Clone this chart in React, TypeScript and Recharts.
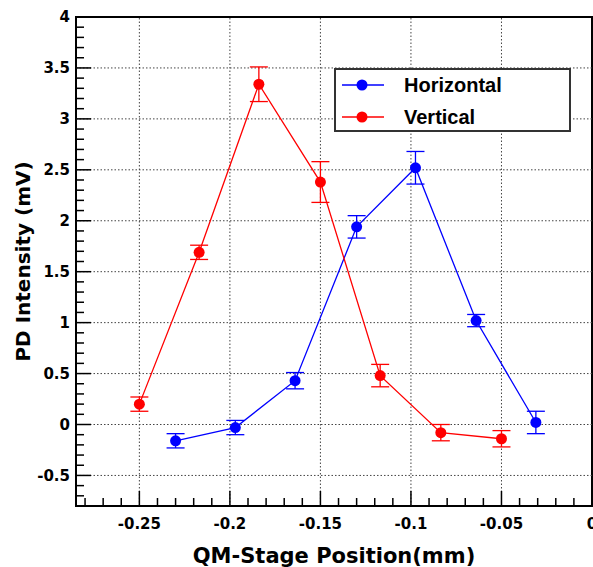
import React from 'react';
import { LineChart, Line, XAxis, YAxis, ErrorBar, ReferenceLine, ReferenceArea, Legend } from 'recharts';

// QM-stage scan, PD intensity vs position
const horizontalX = [-0.23, -0.197, -0.164, -0.13, -0.0975, -0.064, -0.031];
const horizontalY = [-0.16, -0.03, 0.43, 1.94, 2.52, 1.02, 0.02];
const horizontalErr = [0.07, 0.07, 0.08, 0.11, 0.16, 0.06, 0.11];

const verticalX = [-0.25, -0.217, -0.184, -0.15, -0.117, -0.0835, -0.05];
const verticalY = [0.2, 1.69, 3.34, 2.38, 0.48, -0.08, -0.14];
const verticalErr = [0.07, 0.07, 0.17, 0.2, 0.11, 0.08, 0.08];

const xMajor = [-0.25, -0.2, -0.15, -0.1, -0.05, 0];
const yMajor = [-0.5, 0, 0.5, 1, 1.5, 2, 2.5, 3, 3.5, 4];

const xDomain = [-0.285, 0];
const yDomain = [-0.8, 4];

const BLUE = '#0000ff';
const RED = '#ff0000';
const TICK_FONT = '"DejaVu Sans", sans-serif';

const horizontalData = horizontalX.map((x, i) => ({ x, y: horizontalY[i], err: horizontalErr[i] }));
const verticalData = verticalX.map((x, i) => ({ x, y: verticalY[i], err: verticalErr[i] }));

// minor ticks: 0.01 on x, 0.1 on y
const xTicks: number[] = [];
for (let i = -28; i <= 0; i++) xTicks.push(i / 100);
const yTicks: number[] = [];
for (let i = -7; i <= 40; i++) yTicks.push(i / 10);

const isMajor = (v: number, step: number) => Math.abs(v / step - Math.round(v / step)) < 1e-6;
const fmt = (v: number) => String(Number(v.toFixed(3)));

const XTick = (props: any) => {
  const { x, y, payload } = props;
  const major = isMajor(payload.value, 0.05);
  return (
    <g>
      <line x1={x} y1={y} x2={x} y2={y - (major ? 15 : 8)} stroke="#000" strokeWidth={1.5} />
      {major && (
        <text x={x} y={y + 23} textAnchor="middle" fontFamily={TICK_FONT} fontWeight="bold" fontSize={15} fill="#000">
          {fmt(payload.value)}
        </text>
      )}
    </g>
  );
};

const YTick = (props: any) => {
  const { x, y, payload } = props;
  const major = isMajor(payload.value, 0.5);
  return (
    <g>
      <line x1={x} y1={y} x2={x + (major ? 15 : 8)} y2={y} stroke="#000" strokeWidth={1.5} />
      {major && (
        <text x={x - 6} y={y} dy="0.36em" textAnchor="end" fontFamily={TICK_FONT} fontWeight="bold" fontSize={15} fill="#000">
          {fmt(payload.value)}
        </text>
      )}
    </g>
  );
};

const legendItems = [
  { name: 'Horizontal', color: BLUE },
  { name: 'Vertical', color: RED },
];

const LegendBox = () => (
  <svg width={237} height={64} style={{ display: 'block' }}>
    <rect x={1} y={1} width={235} height={62} fill="#fff" stroke="#333" strokeWidth={2} />
    {legendItems.map((item, i) => {
      const cy = 17 + i * 32;
      return (
        <g key={item.name}>
          <line x1={8} y1={cy} x2={50} y2={cy} stroke={item.color} strokeWidth={1.5} />
          <circle cx={28} cy={cy} r={5.5} fill={item.color} />
          <text x={70} y={cy} dy="0.36em" fontFamily='"Liberation Sans", Arial, sans-serif' fontWeight="bold" fontSize={20} fill="#000">
            {item.name}
          </text>
        </g>
      );
    })}
  </svg>
);

export default function App() {
  return (
    <div style={{ position: 'absolute', left: 0, top: 0, background: '#fff' }}>
      <LineChart width={593} height={567} margin={{ top: 17, right: 1, left: 0, bottom: 0 }}>
        <XAxis
          type="number"
          dataKey="x"
          domain={xDomain}
          ticks={xTicks}
          interval={0}
          allowDataOverflow
          height={61}
          axisLine={false}
          tickLine={false}
          tickSize={0}
          tickMargin={0}
          tick={<XTick />}
          label={{
            value: 'QM-Stage Position(mm)',
            position: 'insideBottom',
            offset: 4,
            style: { fontFamily: TICK_FONT, fontWeight: 'bold', fontSize: 21, fill: '#000' },
          }}
        />
        <YAxis
          type="number"
          dataKey="y"
          domain={yDomain}
          ticks={yTicks}
          interval={0}
          allowDataOverflow
          width={76}
          axisLine={false}
          tickLine={false}
          tickSize={0}
          tickMargin={0}
          tick={<YTick />}
          label={{
            value: 'PD Intensity (mV)',
            angle: -90,
            position: 'insideLeft',
            offset: 23,
            style: { textAnchor: 'middle', fontFamily: TICK_FONT, fontWeight: 'bold', fontSize: 20, fill: '#000' },
          }}
        />
        {xMajor.slice(0, -1).map((v) => (
          <ReferenceLine key={'gx' + v} x={v} stroke="#444" strokeWidth={1} strokeDasharray="1.5 2" />
        ))}
        {yMajor.slice(0, -1).map((v) => (
          <ReferenceLine key={'gy' + v} y={v} stroke="#444" strokeWidth={1} strokeDasharray="1.5 2" />
        ))}
        <ReferenceArea
          x1={xDomain[0]}
          x2={xDomain[1]}
          y1={yDomain[0]}
          y2={yDomain[1]}
          fill="none"
          fillOpacity={0}
          stroke="#000"
          strokeWidth={2}
        />
        <Legend
          layout="vertical"
          align="center"
          verticalAlign="middle"
          content={<LegendBox />}
          wrapperStyle={{ left: 334, top: 68, width: 237, height: 64 }}
        />
        <Line
          data={horizontalData}
          dataKey="y"
          name="Horizontal"
          stroke={BLUE}
          strokeWidth={1.3}
          dot={{ r: 5.5, fill: BLUE, stroke: BLUE, strokeWidth: 0 }}
          isAnimationActive={false}
        >
          <ErrorBar dataKey="err" direction="y" width={9} stroke={BLUE} strokeWidth={1.3} />
        </Line>
        <Line
          data={verticalData}
          dataKey="y"
          name="Vertical"
          stroke={RED}
          strokeWidth={1.3}
          dot={{ r: 5.5, fill: RED, stroke: RED, strokeWidth: 0 }}
          isAnimationActive={false}
        >
          <ErrorBar dataKey="err" direction="y" width={9} stroke={RED} strokeWidth={1.3} />
        </Line>
      </LineChart>
    </div>
  );
}
